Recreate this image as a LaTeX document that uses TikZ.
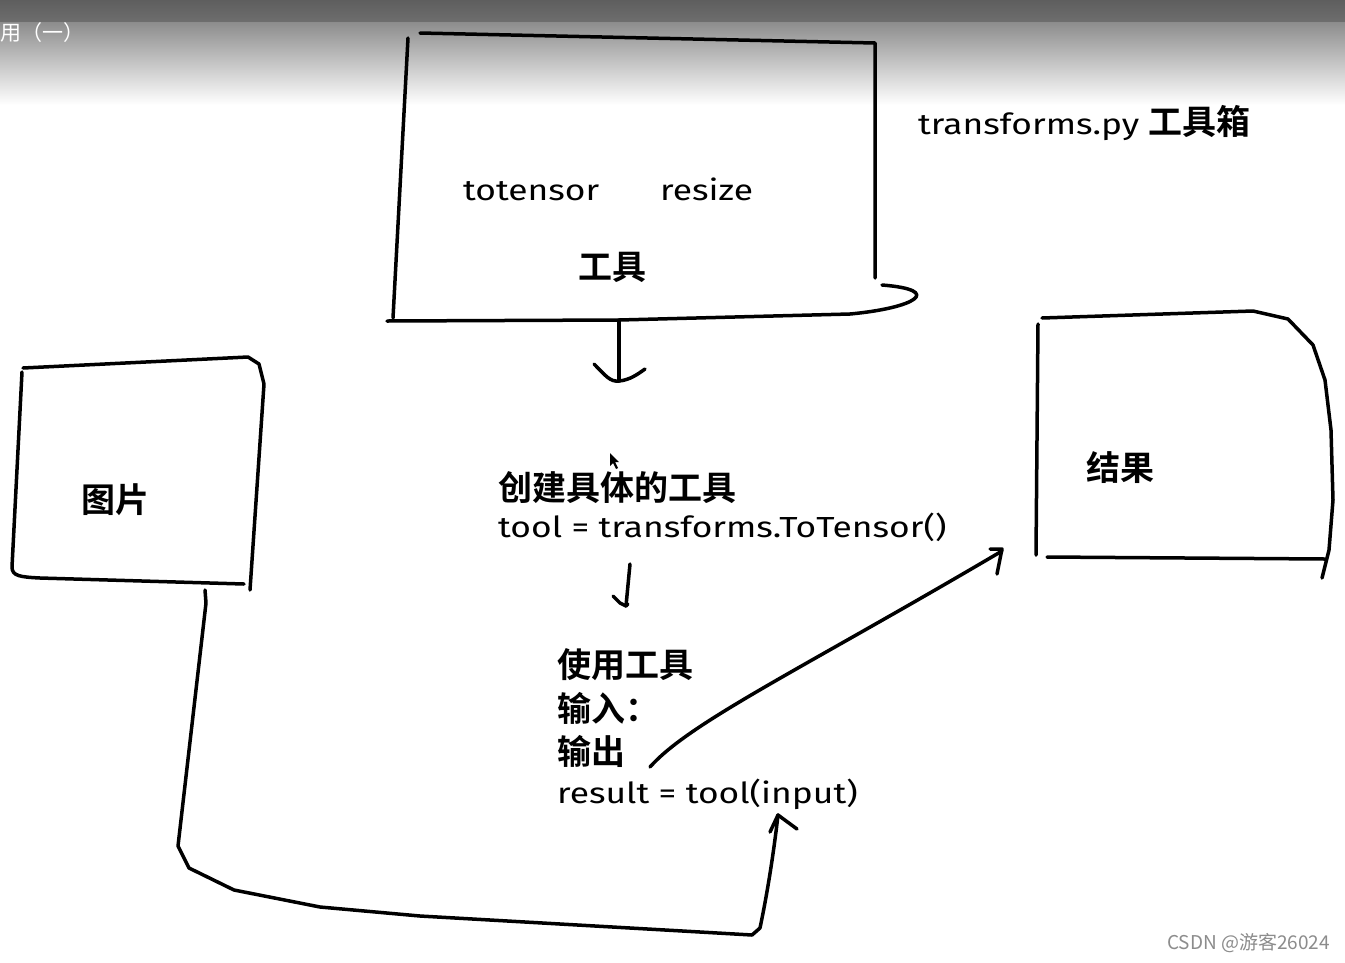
\documentclass[tikz,border=0pt]{standalone}
\usepackage{fontspec}
\setmainfont{Fira Sans}
\newfontfamily\cjk{Noto Sans CJK SC}[BoldFont={Noto Sans CJK SC Bold}]
\newfontfamily\hand{Fira Sans}
\newcommand{\hw}[1]{\scalebox{1.22}[1]{\hand\fontsize{29}{34}\selectfont #1}}
\begin{document}
\begin{tikzpicture}[x=1pt,y=-1pt,
  pen/.style={line width=3.5pt,line cap=round,line join=round},
  zh/.style={font=\cjk\bfseries\fontsize{34}{40}\selectfont,inner sep=0pt},
  hwn/.style={inner sep=0pt},
]
\useasboundingbox (0,0) rectangle (1345,962);
\fill[white] (0,0) rectangle (1345,962);
% header bar
\shade[top color=black!63,bottom color=black!57] (0,0) rectangle (1345,22);
\shade[top color=black!45,bottom color=white] (0,22) rectangle (1345,105);
\node[anchor=west,inner sep=0pt,text=white,font=\cjk\fontsize{21}{25}\selectfont] (hdr) at (0.5,33) {用（一）};

% ---------- top box: 工具 ----------
\coordinate (tbL1) at (408,38);
\coordinate (tbL2) at (393,318);
\coordinate (tbT1) at (420,33);
\coordinate (tbT2) at (875,43);
\coordinate (tbR2) at (875,278);
\coordinate (tbB1) at (387,321);
\coordinate (tbBm) at (619,320);
\draw[pen] (tbT1) -- (tbT2) -- (tbR2);
\draw[pen] (tbL1) -- (tbL2);
\draw[pen] (tbB1) -- (tbBm) -- (850,314) .. controls (915,308) and (945,290) .. (882,285);
\node[hwn,anchor=base west] (tot) at (463,200) {\hw{totensor}};
\node[hwn,anchor=base west] (res) at (660,200) {\hw{resize}};
\node[zh] (tools) at (612,267) {工具};
\node[hwn,anchor=base west] (tbx) at (918,134) {\hw{transforms.py}\hspace{9pt}{\cjk\bfseries\fontsize{34}{38}\selectfont 工具箱}};

% arrow 1
\coordinate (a1e) at (619,381);
\draw[pen] (tbBm) -- (a1e);
\draw[pen] (594,364) .. controls (606,376) and (610,382) .. (a1e) .. controls (630,380) and (638,374) .. (645,369);

% ---------- left box: 图片 ----------
\coordinate (lbT1) at (23,368);
\coordinate (lbT2) at (248,357);
\draw[pen] (lbT1) -- (lbT2) -- (259,364) -- (264,384) -- (250,590);
\draw[pen] (22,372) -- (12,567) .. controls (12,576) and (20,577) .. (40,578) -- (244,584);
\node[zh] (img) at (115,500) {图片};

% ---------- right box: 结果 ----------
\draw[pen] (1042,318) -- (1253,311) -- (1288,319) -- (1313,345) -- (1325,380) -- (1331,430) -- (1333,500) -- (1329,550) -- (1322,578);
\draw[pen] (1038,324) -- (1036,555);
\coordinate (rbB1) at (1047,557);
\draw[pen] (rbB1) -- (1325,559);
\node[zh] (res2) at (1120,468) {结果};

% ---------- middle texts ----------
\node[zh,anchor=base west] (mk) at (498,500) {创建具体的工具};
\node[hwn,anchor=base west] (tt) at (498,537) {\hw{tool = transforms.ToTensor()}};
% cursor
\fill[black] (610,453) -- (610,466) -- (613,463) -- (616,469) -- (618,468) -- (615,462) -- (619,462) -- cycle;

% arrow 2
\coordinate (a2s) at (630,564);
\coordinate (a2e) at (626,606);
\draw[pen] (a2s) -- (a2e);
\draw[pen] (613,596) -- (620,603) -- (a2e) -- (628,604);

\node[zh,anchor=base west] (use) at (557,677) {使用工具};
\node[zh,anchor=base west] (inp) at (557,721) {输入：};
\node[zh,anchor=base west] (outp) at (557,764) {输出};
\node[hwn,anchor=base west] (rr) at (557,803) {\hw{result = tool(input)}};

% output arrow to result box
\coordinate (o1) at (650,767);
\coordinate (o2) at (1002,551);
\draw[pen] (o1) .. controls (690,722) and (800,670) .. (o2);
\draw[pen] (990,549) -- (1002,549) -- (997,574);

% input connector from picture box
\coordinate (c0) at (205,590);
\coordinate (c1) at (778,815);
\draw[pen] (c0) -- (206,603) -- (178,846) -- (189,868) -- (234,890) -- (320,907) -- (420,916) -- (700,932) -- (752,935) -- (760,928) .. controls (768,890) and (774,850) .. (c1);
\draw[pen] (770,832) -- (c1) -- (797,829);

% watermark
\node[anchor=east,inner sep=0pt,text=black!45,font=\cjk\fontsize{19}{22}\selectfont] (wmk) at (1330,943) {CSDN @游客26024};
\end{tikzpicture}
\end{document}
